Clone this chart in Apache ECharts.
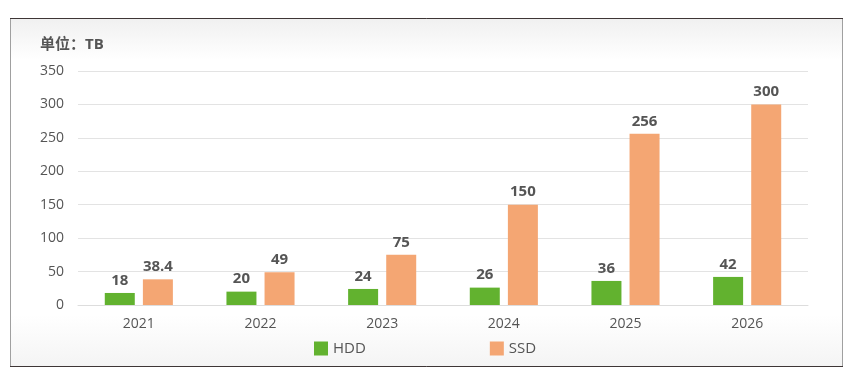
<!DOCTYPE html>
<html><head><meta charset="utf-8">
<script src="https://cdn.jsdelivr.net/npm/echarts@6/dist/echarts.min.js"></script>
<style>html,body{margin:0;padding:0;background:#fff}#c{width:855px;height:384px}</style>
</head><body><div id="c"></div>
<script>
const categories = ['2021','2022','2023','2024','2025','2026'];
const hdd = [18, 20, 24, 26, 36, 42];
const ssd = [38.4, 49, 75, 150, 256, 300];
const yTicks = [0, 50, 100, 150, 200, 250, 300, 350];

const chart = echarts.init(document.getElementById('c'));
const font = '"Open Sans", "Noto Sans CJK SC", sans-serif';
chart.setOption({
  animation: false,
  textStyle: { fontFamily: font },
  graphic: [
    { type: 'rect', z: -10, silent: true, shape: { x: 10.5, y: 18.5, width: 832, height: 348 },
      style: { fill: new echarts.graphic.LinearGradient(0, 0, 0, 1, [
        { offset: 0, color: '#f0f0f0' }, { offset: 0.12, color: '#ffffff' },
        { offset: 0.85, color: '#ffffff' }, { offset: 1, color: '#f4f4f4' }]),
        stroke: '#a0a0a0', lineWidth: 1 } },
    { type: 'line', z: -9, silent: true, shape: { x1: 10, y1: 18.5, x2: 843, y2: 18.5 }, style: { stroke: '#3e3636', lineWidth: 1 } },
    { type: 'line', z: -9, silent: true, shape: { x1: 10, y1: 366.5, x2: 843, y2: 366.5 }, style: { stroke: '#3e3636', lineWidth: 1 } },
    { type: 'text', left: 40, top: 37, style: { text: '单位：TB', font: 'bold 15px ' + font, fill: '#555' } }
  ],
  grid: { left: 78, right: 47, top: 71, bottom: 79, containLabel: false },
  legend: {
    bottom: 23, left: 309, itemWidth: 14, itemHeight: 14, itemGap: 124,
    icon: 'rect', textStyle: { fontSize: 15, color: '#555', fontFamily: font },
    data: ['HDD', 'SSD']
  },
  xAxis: {
    type: 'category', data: categories,
    axisLine: { lineStyle: { color: '#ddd' } },
    axisTick: { show: false },
    axisLabel: { color: '#555', fontSize: 14, margin: 12 }
  },
  yAxis: {
    type: 'value', min: 0, max: 350, interval: 50,
    axisLabel: { color: '#555', fontSize: 14, margin: 14,
      formatter: v => yTicks.includes(v) ? String(v) : '' },
    splitLine: { lineStyle: { color: '#e3e3e3' } },
    axisLine: { show: false }, axisTick: { show: false }
  },
  series: [
    { name: 'HDD', type: 'bar', data: hdd, barWidth: 30, barGap: '27%',
      itemStyle: { color: '#62b22f' },
      label: { show: true, position: 'top', color: '#555', fontSize: 15, fontWeight: 'bold', distance: 5 } },
    { name: 'SSD', type: 'bar', data: ssd, barWidth: 30,
      itemStyle: { color: '#f4a673' },
      label: { show: true, position: 'top', color: '#555', fontSize: 15, fontWeight: 'bold', distance: 5 } }
  ]
});
</script></body></html>
